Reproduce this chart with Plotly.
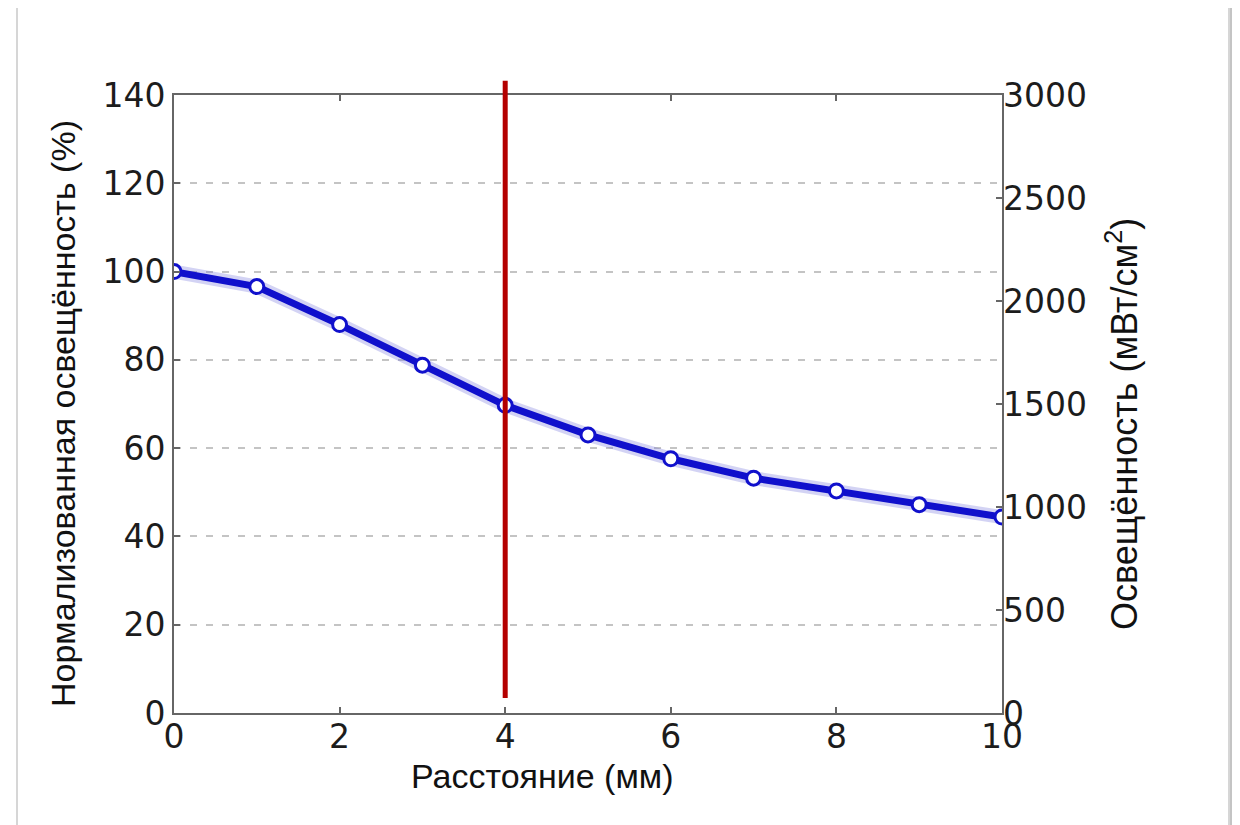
import plotly.graph_objects as go

# data
distance_mm = [0, 1, 2, 3, 4, 5, 6, 7, 8, 9, 10]
normalized_pct = [100, 96.6, 88, 78.8, 69.7, 63, 57.6, 53.2, 50.3, 47.2, 44.4]
x_ticks = [0, 2, 4, 6, 8, 10]
y_left_ticks = [0, 20, 40, 60, 80, 100, 120, 140]
y_right_ticks = [0, 500, 1000, 1500, 2000, 2500, 3000]
marker_x = 4
marker_y_span = [3.4, 143.2]
y_left_max = 140

x_title = "Расстояние (мм)"
y_left_title = "Нормализованная освещённость (%)"
y_right_title = "Освещённость (мВт/см<sup>2</sup>)"

OFF = 8  # page body margin
W, H = 1232, 817
L, T = 174 - OFF, 95 - OFF
R = W - (1002 - OFF)
B = H - (713 - OFF)
pw, ph = W - L - R, H - T - B


def px(sx):
    return (sx - OFF - L) / pw


def py(sy):
    return (H - B - (sy - OFF)) / ph


tick_font = dict(family="DejaVu Sans", size=33, color="#1c1c1c")
title_font = dict(family="Liberation Sans", size=34, color="#111111")
axis_col = "#666666"

fig = go.Figure()

fig.add_trace(go.Scatter(
    x=distance_mm, y=normalized_pct, mode="lines",
    line=dict(color="rgba(110,110,220,0.30)", width=14),
    hoverinfo="skip", showlegend=False))
fig.add_trace(go.Scatter(
    x=distance_mm, y=normalized_pct, mode="lines+markers",
    line=dict(color="#1010cc", width=7),
    marker=dict(symbol="circle", size=14, color="white",
                line=dict(color="#1010cc", width=3)),
    showlegend=False))
fig.add_trace(go.Scatter(x=[None], y=[None], yaxis="y2", showlegend=False,
                         hoverinfo="skip"))

fig.update_layout(
    width=W, height=H,
    margin=dict(l=L, r=R, t=T, b=B),
    paper_bgcolor="white", plot_bgcolor="white",
    xaxis=dict(
        range=[0, 10], tickvals=x_ticks, ticks="inside", ticklen=6, tickwidth=1.5,
        tickcolor=axis_col, showline=True, linecolor=axis_col, linewidth=2,
        mirror="ticks", showgrid=False, zeroline=False, tickfont=tick_font,
        ticklabelstandoff=-7,
    ),
    yaxis=dict(
        range=[0, y_left_max], tickvals=y_left_ticks, ticks="inside", ticklen=6, tickwidth=1.5,
        tickcolor=axis_col, showline=True, linecolor=axis_col, linewidth=2,
        mirror=True, showgrid=True, gridcolor="#c4c4c4", griddash="7px,9px", gridwidth=1.5,
        zeroline=False, tickfont=tick_font,
    ),
    yaxis2=dict(
        range=[0, 3000], tickvals=y_right_ticks, overlaying="y", side="right",
        ticks="inside", ticklen=6, tickwidth=1.5, tickcolor=axis_col,
        showgrid=False, zeroline=False, showline=False, tickfont=tick_font,
    ),
)

# axis titles as annotations
fig.add_annotation(text=x_title, xref="paper", yref="paper", x=px(542), y=py(776),
                   showarrow=False, font=title_font, xanchor="center", yanchor="middle")
fig.add_annotation(text=y_left_title, xref="paper", yref="paper", x=px(63), y=py(414),
                   showarrow=False, font=title_font, textangle=-90,
                   xanchor="center", yanchor="middle")
fig.add_annotation(text=y_right_title, xref="paper", yref="paper", x=px(1122), y=py(424),
                   showarrow=False, font=dict(title_font, size=36), textangle=-90,
                   xanchor="center", yanchor="middle")

# red vertical marker line
fig.add_shape(type="line", xref="x", yref="paper",
              x0=marker_x, x1=marker_x,
              y0=marker_y_span[0] / y_left_max, y1=marker_y_span[1] / y_left_max,
              line=dict(color="#b40000", width=5), layer="above")

# outer frame
fig.add_shape(type="rect", xref="paper", yref="paper",
              x0=px(17), x1=px(1229), y0=py(850), y1=py(6),
              line=dict(color="#d6d6d6", width=2), layer="below")
fig.add_shape(type="line", xref="paper", yref="paper",
              x0=px(1233), x1=px(1233), y0=py(850), y1=py(6),
              line=dict(color="#c4c4c4", width=6), layer="below")

fig.write_html("out.html")
